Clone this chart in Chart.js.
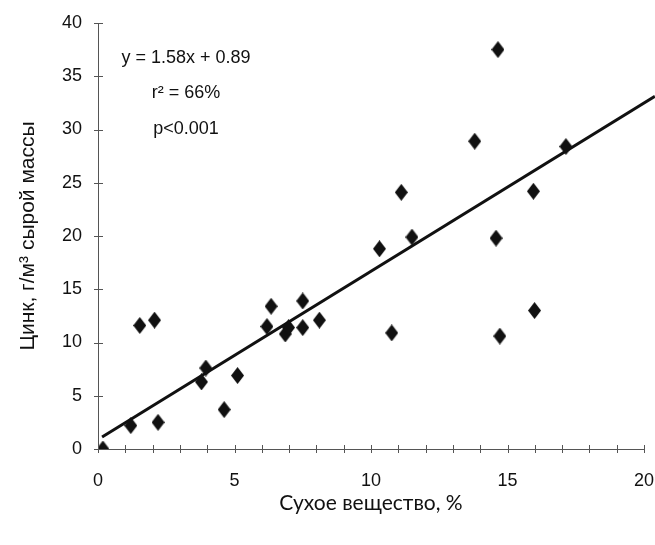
<!DOCTYPE html>
<html>
<head>
<meta charset="utf-8">
<script src="https://cdn.jsdelivr.net/npm/chart.js@4.4.1/dist/chart.umd.min.js"></script>
<style>
  html, body { margin: 0; padding: 0; background: #fff; }
  #wrap { width: 655px; height: 545px; }
</style>
</head>
<body>
<div id="wrap"><canvas id="chart1" width="655" height="545"></canvas></div>
<script>
// dry matter, % (x) and zinc, g/m3 wet mass (y)
const dryMatter = [0.18, 1.2, 1.53, 2.07, 2.2, 3.79, 3.95, 4.62, 5.11, 6.19, 6.34, 6.86, 6.98, 7.5, 7.5, 8.11,
  10.31, 10.76, 11.11, 11.5, 13.8, 14.65, 14.58, 14.72, 15.95, 15.99, 17.14];
const zinc = [0, 2.2, 11.6, 12.1, 2.5, 6.3, 7.6, 3.7, 6.9, 11.5, 13.4, 10.8, 11.4, 11.4, 13.9, 12.1,
  18.8, 10.9, 24.1, 19.9, 28.9, 37.5, 19.8, 10.6, 24.2, 13.0, 28.4];

// fitted line y = 1.58x + 0.89
const slope = 1.58;
const intercept = 0.89;
const fitX = [0.15, 20.4];
const statLines = ['y = 1.58x + 0.89', 'r\u00b2 = 66%', 'p<0.001'];

const xTicks = { min: 0, max: 20, step: 1, labelEvery: 5 };
const yTicks = { min: 0, max: 40, step: 5 };

// tall black diamond marker
const diamond = document.createElement('canvas');
diamond.width = 13;
diamond.height = 17;
const dc = diamond.getContext('2d');
dc.fillStyle = '#111';
dc.beginPath();
dc.moveTo(6.5, 0);
dc.lineTo(13, 8.5);
dc.lineTo(6.5, 17);
dc.lineTo(0, 8.5);
dc.closePath();
dc.fill();

const crossTicks = {
  id: 'crossTicks',
  afterDraw(chart) {
    const ctx = chart.ctx;
    const xs = chart.scales.x, ys = chart.scales.y;
    ctx.save();
    ctx.strokeStyle = '#555';
    ctx.lineWidth = 1;
    ctx.beginPath();
    xs.ticks.forEach(t => {
      const px = Math.round(xs.getPixelForValue(t.value)) + 0.5;
      ctx.moveTo(px, xs.top - 4);
      ctx.lineTo(px, xs.top + 4);
    });
    ys.ticks.forEach(t => {
      const py = Math.round(ys.getPixelForValue(t.value)) + 0.5;
      ctx.moveTo(ys.right - 4, py);
      ctx.lineTo(ys.right + 5, py);
    });
    ctx.stroke();

    // regression statistics
    ctx.fillStyle = '#111';
    ctx.font = '18px "Liberation Sans", Arial, sans-serif';
    ctx.textAlign = 'center';
    ctx.textBaseline = 'middle';
    const cx = chart.chartArea.left + 88;
    statLines.forEach((s, i) => {
      ctx.fillText(s, cx, chart.chartArea.top + 35 + i * 35.5);
    });
    ctx.restore();
  }
};

new Chart(document.getElementById('chart1').getContext('2d'), {
  type: 'scatter',
  data: {
    datasets: [{
      label: 'data',
      data: dryMatter.map((x, i) => ({ x: x, y: zinc[i] })),
      pointStyle: diamond,
      pointRadius: 8,
      backgroundColor: '#111',
      borderColor: '#111'
    }, {
      label: 'fit',
      type: 'line',
      data: fitX.map(x => ({ x: x, y: slope * x + intercept })),
      borderColor: '#111',
      borderWidth: 3,
      pointRadius: 0,
      fill: false,
      clip: false
    }]
  },
  options: {
    responsive: false,
    animation: false,
    layout: { padding: { left: 0, right: 11, top: 23, bottom: 29 } },
    plugins: {
      legend: { display: false },
      tooltip: { enabled: false }
    },
    scales: {
      x: {
        type: 'linear',
        min: xTicks.min,
        max: xTicks.max,
        afterFit: s => { s.height = 67; s.paddingLeft = 0; s.paddingRight = 0; },
        grid: { display: false },
        border: { display: true, color: '#555', width: 1 },
        ticks: {
          stepSize: xTicks.step,
          autoSkip: false,
          maxRotation: 0,
          padding: 13,
          color: '#111',
          font: { family: '"Liberation Sans", Arial, sans-serif', size: 18 },
          callback: v => (v % xTicks.labelEvery === 0 ? v : '')
        },
        title: {
          display: true,
          text: 'Сухое вещество, %',
          color: '#111',
          font: { family: 'Lato, "Open Sans", sans-serif', size: 21 },
          padding: { top: 8, bottom: 0 }
        }
      },
      y: {
        min: yTicks.min,
        max: yTicks.max,
        afterFit: s => { s.width = 98; s.paddingTop = 0; s.paddingBottom = 0; },
        grid: { display: false },
        border: { display: true, color: '#555', width: 1 },
        ticks: {
          stepSize: yTicks.step,
          padding: 8,
          color: '#111',
          font: { family: '"Liberation Sans", Arial, sans-serif', size: 18 }
        },
        title: {
          display: true,
          text: 'Цинк, г/м\u00b3 сырой массы',
          color: '#111',
          font: { family: '"Liberation Sans", Arial, sans-serif', size: 21 },
          padding: { top: 16, bottom: 0 }
        }
      }
    }
  },
  plugins: [crossTicks]
});
</script>
</body>
</html>
